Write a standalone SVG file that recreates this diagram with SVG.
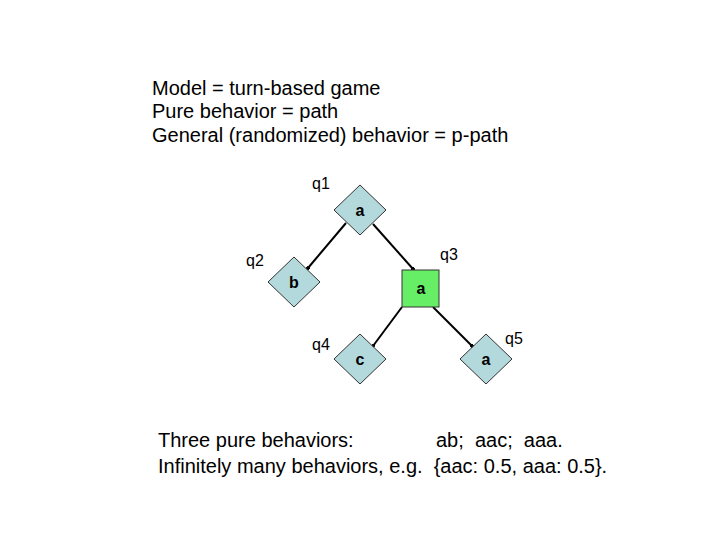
<svg xmlns="http://www.w3.org/2000/svg" width="720" height="540" viewBox="0 0 720 540">
<style>
.t{font-family:"Liberation Sans",Arial,sans-serif;font-size:20px;fill:#000}
.l{font-family:"Liberation Sans",Arial,sans-serif;font-size:16px;fill:#000}
.n{font-family:"Liberation Sans",Arial,sans-serif;font-size:16px;font-weight:bold;fill:#000;text-anchor:middle}
.d{fill:#b4d9dc;stroke:#333;stroke-width:1}
.e{stroke:#000;stroke-width:2;fill:none;marker-end:url(#m)}
</style>
<defs><marker id="m" viewBox="0 0 4 4" refX="2" refY="2" markerWidth="2" markerHeight="2" orient="auto"><circle cx="2" cy="2" r="2" fill="#000"/></marker></defs>
<rect width="720" height="540" fill="#fff"/>
<text class="t" x="152" y="95">Model = turn-based game</text>
<text class="t" x="152" y="118">Pure behavior = path</text>
<text class="t" x="152" y="142">General (randomized) behavior = p-path</text>
<g id="edges">
<line class="e" x1="346" y1="223" x2="308" y2="268"/>
<line class="e" x1="373" y1="224" x2="413" y2="269"/>
<line class="e" x1="402" y1="307" x2="373" y2="346"/>
<line class="e" x1="433" y1="307" x2="472" y2="346"/>
</g>
<g id="q1"><polygon class="d" points="360,185 386,210 360,235 334,210"/><text class="n" x="360" y="216">a</text><text class="l" x="312" y="189">q1</text></g>
<g id="q2"><polygon class="d" points="294,257 320,282 294,307 268,282"/><text class="n" x="294" y="288">b</text><text class="l" x="246" y="266">q2</text></g>
<g id="q3"><rect x="402" y="270" width="37" height="37" fill="#66ee66" stroke="#333"/><text class="n" x="421" y="294">a</text><text class="l" x="440" y="260">q3</text></g>
<g id="q4"><polygon class="d" points="360,334 386,359 360,384 334,359"/><text class="n" x="360" y="365">c</text><text class="l" x="312" y="350">q4</text></g>
<g id="q5"><polygon class="d" points="486,334 512,359 486,384 460,359"/><text class="n" x="486" y="365">a</text><text class="l" x="505" y="344">q5</text></g>
<text class="t" x="158" y="447">Three pure behaviors:</text>
<text class="t" x="436" y="447" xml:space="preserve">ab;  aac;  aaa.</text>
<text class="t" x="158" y="473" xml:space="preserve">Infinitely many behaviors, e.g.  {aac: 0.5, aaa: 0.5}.</text>
</svg>
